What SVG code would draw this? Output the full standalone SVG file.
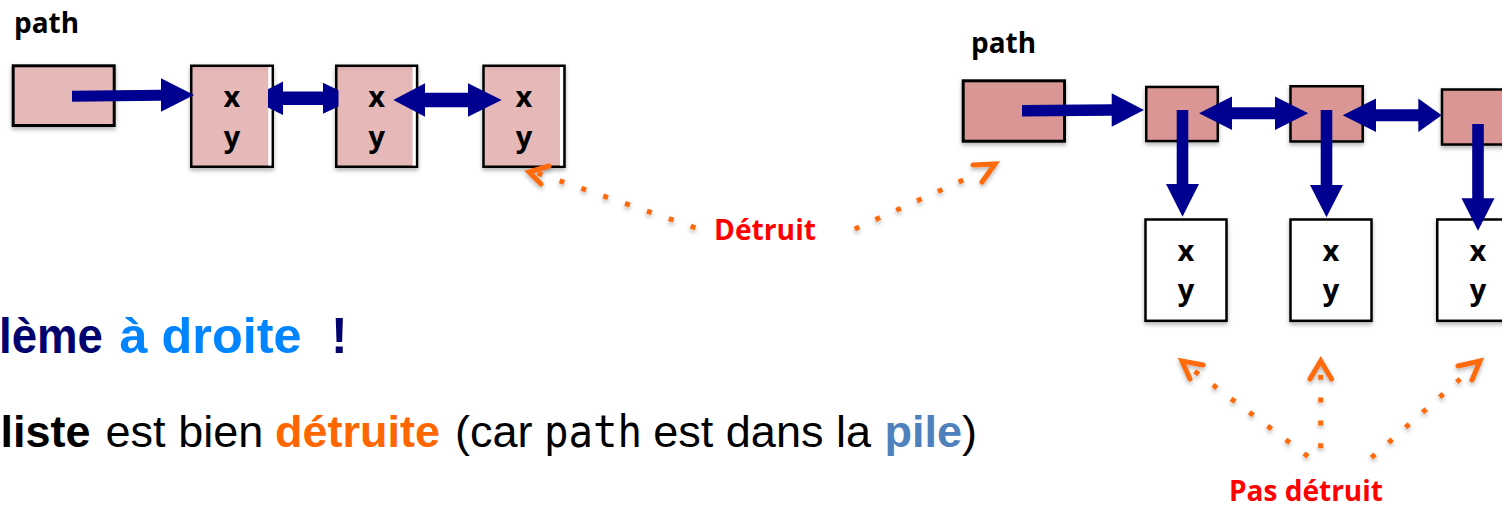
<svg xmlns="http://www.w3.org/2000/svg" width="1502" height="507" viewBox="0 0 1502 507">
<defs>
<style>
.lbl{font-family:"Open Sans","Liberation Sans",sans-serif;font-weight:700;fill:#000;}
.cell{font-family:"Open Sans","Liberation Sans",sans-serif;font-weight:700;font-size:29px;fill:#000;text-anchor:middle;}
.red{font-family:"Open Sans","Liberation Sans",sans-serif;font-weight:700;font-size:28px;fill:#FF0000;}
.lbox{fill:url(#lgrad);stroke:#000;stroke-width:2.5;}
.rbox{fill:#D99694;stroke:#000;stroke-width:2.5;}
.wbox{fill:#FFFFFF;stroke:#000;stroke-width:2.5;}
.strip{fill:#FFFFFF;}
.arr{fill:#000090;}
.dots{fill:none;stroke:#FF6A10;stroke-width:5;stroke-dasharray:5 17.8;}
.chev{fill:none;stroke:#FF6A10;stroke-width:5;stroke-linecap:round;stroke-linejoin:miter;}
.cap{font-family:"Liberation Sans",Arial,sans-serif;}
</style>
<linearGradient id="lgrad" x1="0" y1="0" x2="0" y2="1">
<stop offset="0" stop-color="#D6A8A7"/>
<stop offset="0.06" stop-color="#E6B9B8"/>
<stop offset="1" stop-color="#E6B9B8"/>
</linearGradient>
<filter id="sh" x="-20%" y="-20%" width="140%" height="150%">
<feDropShadow dx="0" dy="2.5" stdDeviation="2" flood-color="#000" flood-opacity="0.3"/>
</filter>
</defs>
<rect x="0" y="0" width="1502" height="507" fill="#FFFFFF"/>

<!-- Left diagram -->
<g id="left-path-label"><text class="lbl" x="14" y="33" font-size="28" textLength="65" lengthAdjust="spacingAndGlyphs">path</text></g>
<g id="left-head"><rect x="13.2" y="65.8" width="101" height="59.7" fill="#E6B9B8" stroke="#000" stroke-width="3" filter="url(#sh)"/></g>
<g id="left-node1">
<rect class="lbox" x="191.25" y="65.75" width="81.5" height="101" filter="url(#sh)"/>
<rect class="strip" x="268.3" y="67" width="3" height="98.5"/>
<text class="cell" x="232" y="106.5">x</text><text class="cell" x="232" y="147">y</text>
</g>
<g id="left-node2">
<rect class="lbox" x="336.25" y="65.75" width="80.8" height="101" filter="url(#sh)"/>
<rect class="strip" x="412.6" y="67" width="3" height="98.5"/>
<text class="cell" x="376.7" y="106.5">x</text><text class="cell" x="376.7" y="147">y</text>
</g>
<g id="left-node3">
<rect class="lbox" x="483.5" y="65.75" width="81" height="101" filter="url(#sh)"/>
<rect class="strip" x="560" y="67" width="3" height="98.5"/>
<text class="cell" x="524" y="106.5">x</text><text class="cell" x="524" y="147">y</text>
</g>

<!-- Right diagram -->
<g id="right-path-label"><text class="lbl" x="971" y="53" font-size="28" textLength="65" lengthAdjust="spacingAndGlyphs">path</text></g>
<g id="right-head"><rect x="963.2" y="80.8" width="101.3" height="60.4" fill="#D99694" stroke="#000" stroke-width="3" filter="url(#sh)"/></g>
<g id="right-ptr1"><rect class="rbox" x="1146.25" y="86.95" width="71.5" height="54.1" filter="url(#sh)"/></g>
<g id="right-ptr2"><rect class="rbox" x="1290.5" y="86.25" width="72.2" height="55.2" filter="url(#sh)"/></g>
<g id="right-ptr3"><rect class="rbox" x="1442" y="89.5" width="73" height="55" filter="url(#sh)"/></g>
<g id="right-obj1">
<rect class="wbox" x="1145.5" y="219.5" width="81" height="101.3" filter="url(#sh)"/>
<text class="cell" x="1186" y="261">x</text><text class="cell" x="1186" y="300">y</text>
</g>
<g id="right-obj2">
<rect class="wbox" x="1290.5" y="219.5" width="81" height="101.3" filter="url(#sh)"/>
<text class="cell" x="1331" y="261">x</text><text class="cell" x="1331" y="300">y</text>
</g>
<g id="right-obj3">
<rect class="wbox" x="1437.25" y="219.5" width="81.5" height="101.3" filter="url(#sh)"/>
<text class="cell" x="1478" y="261">x</text><text class="cell" x="1478" y="300">y</text>
</g>

<!-- Connectors -->
<g id="connectors">
<polygon class="arr" points="72,90.8 161,89.7 161,78.3 194,95 161,111.7 161,100.7 72,101.8"/>
<polygon class="arr" points="268,89.2 283,81.6 283,91.6 323,91.6 323,82.8 338.5,90.2 338.5,106.4 323,113.8 323,105 283,105 283,115 268,107.4"/>
<polygon class="arr" points="393.3,100 425,83.3 425,92.7 468,92.7 468,83.3 501.7,100 468,116.7 468,107.3 425,107.3 425,116.7"/>
<polygon class="arr" points="1022,104.9 1111.7,104.2 1111.7,93.3 1144,110 1111.7,126.7 1111.7,115.8 1022,116.6"/>
<polygon class="arr" points="1199,113.3 1232,96.6 1232,107.3 1275,107.3 1275,96.6 1308.3,113.3 1275,130 1275,119.3 1232,119.3 1232,130"/>
<polygon class="arr" points="1342.7,115.3 1376,98.6 1376,109.3 1418.3,109.3 1418.3,98.6 1441.7,115.3 1418.3,132 1418.3,121.3 1376,121.3 1376,132"/>
<polygon class="arr" points="1176.7,110 1188.3,110 1188.3,184 1199,184 1182.5,216.7 1166,184 1176.7,184"/>
<polygon class="arr" points="1320.7,110 1332.3,110 1332.3,185 1343,185 1326.5,217.3 1310,185 1320.7,185"/>
<polygon class="arr" points="1472.2,124 1483.8,124 1483.8,198.3 1494.5,198.3 1478,230.7 1461.5,198.3 1472.2,198.3"/>
</g>

<!-- Annotations -->
<g id="annot-detruit" filter="url(#sh)">
<path class="dots" d="M695.4,227.8 L537.6,173.2" style="stroke-dasharray:5 18.13"/>
<polyline class="chev" points="549,166 529,172 541,184"/>
<path class="dots" d="M854.7,229 L963.3,180"/>
<polyline class="chev" points="973,165 995,164 982,182"/>
</g>
<g id="label-detruit"><text class="red" x="714" y="240" textLength="102" lengthAdjust="spacingAndGlyphs">Détruit</text></g>

<g id="annot-pas-detruit" filter="url(#sh)">
<path class="dots" d="M1308,456.5 L1194.7,371.2"/>
<polyline class="chev" points="1203,365 1182,361 1190,379"/>
<path class="dots" d="M1320.7,448.2 L1320.7,374.8"/>
<polyline class="chev" points="1310,379 1320.7,361 1331.5,379"/>
<path class="dots" d="M1371.4,457.7 L1460.2,379"/>
<polyline class="chev" points="1458,366 1480,361 1472,380"/>
</g>
<g id="label-pas-detruit"><text class="red" x="1229" y="501" textLength="154" lengthAdjust="spacingAndGlyphs">Pas détruit</text></g>

<!-- Caption text -->
<g id="caption">
<text class="cap" y="353" font-size="50" font-weight="700">
<tspan x="-1" fill="#00006E" textLength="104" lengthAdjust="spacingAndGlyphs">lème</tspan>
<tspan x="119.5" fill="#0084FF" textLength="182" lengthAdjust="spacingAndGlyphs">à droite</tspan>
<tspan x="331" fill="#00006E">!</tspan>
</text>
<text class="cap" y="447" font-size="45">
<tspan x="0.5" font-weight="700" fill="#000">liste</tspan>
<tspan x="105.6" fill="#000">est bien</tspan>
<tspan x="275" font-weight="700" fill="#FF6600">détruite</tspan>
<tspan x="455" fill="#000">(car</tspan>
<tspan x="544" fill="#000" font-family="'DejaVu Sans Mono',monospace" font-size="44" textLength="98" lengthAdjust="spacingAndGlyphs">path</tspan>
<tspan x="653.3" fill="#000">est dans la</tspan>
<tspan x="884.6" font-weight="700" fill="#4F81BD">pile</tspan>
<tspan x="962" fill="#000">)</tspan>
</text>
</g>
</svg>
